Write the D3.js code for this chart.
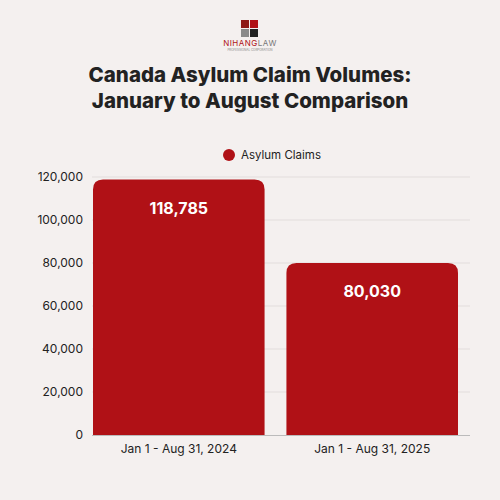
<!DOCTYPE html>
<html><head><meta charset="utf-8">
<script src="https://cdn.jsdelivr.net/npm/d3@7"></script>
<style>body{margin:0;background:#f4f0ef}</style></head>
<body><svg id="c" width="500" height="500"></svg>
<script>
const categories=["Jan 1 - Aug 31, 2024","Jan 1 - Aug 31, 2025"];
const values=[118785,80030];
const yTicks=[0,20000,40000,60000,80000,100000,120000];
const svg=d3.select("#c");
svg.append("rect").attr("width",500).attr("height",500).attr("fill","#f4f0ef");
const lg=svg.append("g");
lg.append("rect").attr("x",241).attr("y",20).attr("width",8).attr("height",8).attr("fill","#8e1a17");
lg.append("rect").attr("x",250).attr("y",20).attr("width",8).attr("height",8).attr("fill","#b01116");
lg.append("rect").attr("x",241).attr("y",29).attr("width",8).attr("height",8).attr("fill","#8a8a8a");
lg.append("rect").attr("x",250).attr("y",29).attr("width",8).attr("height",8).attr("fill","#222");
lg.append("text").attr("x",250).attr("y",46).attr("text-anchor","middle").attr("font-family","Inter").attr("font-size",8).attr("letter-spacing",0.5)
 .html('<tspan fill="#b01116">NIHANG</tspan><tspan fill="#777">LAW</tspan>');
lg.append("text").attr("x",250).attr("y",51).attr("text-anchor","middle").attr("font-family","Inter").attr("font-size",3).attr("fill","#888").text("PROFESSIONAL CORPORATION");
const t=svg.append("text").attr("text-anchor","middle").attr("font-family","Inter").attr("font-weight",800).attr("font-size",20.5).attr("fill","#222");
t.append("tspan").attr("x",250).attr("y",82).text("Canada Asylum Claim Volumes:");
t.append("tspan").attr("x",250).attr("y",108).text("January to August Comparison");
svg.append("circle").attr("cx",229).attr("cy",155).attr("r",6).attr("fill","#b01116");
svg.append("text").attr("x",241).attr("y",159).attr("font-family","Inter").attr("font-size",11.5).attr("fill","#222").text("Asylum Claims");
const x=d3.scaleBand().domain(categories).range([93,458]).paddingInner(0.113).paddingOuter(0);
const y=d3.scaleLinear().domain([0,120000]).range([435,177]);
svg.append("g").selectAll("line").data(yTicks.slice(1)).join("line").attr("x1",92).attr("x2",470)
 .attr("y1",d=>y(d)).attr("y2",d=>y(d)).attr("stroke","#e2dddc");
const ya=svg.append("g").attr("transform","translate(92,0)").call(d3.axisLeft(y).tickValues(yTicks).tickSize(0).tickPadding(9).tickFormat(d3.format(",")));
ya.select(".domain").remove();
ya.selectAll("text").attr("font-family","Inter").attr("font-size",12).attr("fill","#222");
const r=10;
svg.append("g").selectAll("path").data(values).join("path").attr("fill","#b01116").attr("d",(d,i)=>{
 const x0=x(categories[i]),w=x.bandwidth(),y0=y(d),y1=y(0);
 return `M${x0},${y1}V${y0+r}Q${x0},${y0} ${x0+r},${y0}H${x0+w-r}Q${x0+w},${y0} ${x0+w},${y0+r}V${y1}Z`;});
svg.append("g").selectAll("text").data(values).join("text").attr("text-anchor","middle")
 .attr("x",(d,i)=>x(categories[i])+x.bandwidth()/2).attr("y",d=>y(d)+34)
 .attr("font-family","Inter").attr("font-weight",700).attr("font-size",16).attr("fill","#fff").text(d3.format(","));
svg.append("line").attr("x1",92).attr("x2",470).attr("y1",435.5).attr("y2",435.5).attr("stroke","#bbb");
const xa=svg.append("g").attr("transform","translate(0,435)").call(d3.axisBottom(x).tickSize(0).tickPadding(9));
xa.select(".domain").remove();
xa.selectAll("text").attr("font-family","Inter").attr("font-size",12).attr("fill","#222");
</script></body></html>
